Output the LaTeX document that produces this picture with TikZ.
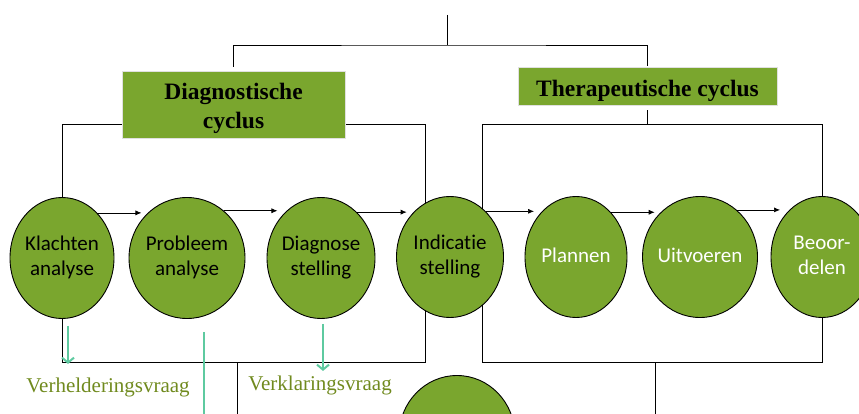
\documentclass[tikz,border=0pt]{standalone}
\usepackage{fontspec}
\setmainfont{Liberation Serif}
\newfontfamily\calibri[Ligatures=NoCommon]{Carlito}
\usetikzlibrary{shapes.geometric,arrows.meta,backgrounds}
\definecolor{leaf}{RGB}{122,166,46}
\definecolor{mint}{RGB}{94,202,160}
\definecolor{olivetext}{RGB}{112,138,30}
\definecolor{wire}{RGB}{80,80,80}
\newcommand{\phasetext}[1]{\makebox[0pt]{\begin{tabular}{@{}c@{}}#1\end{tabular}}}
\newcommand{\lowered}[2]{\raisebox{-#1}[\height][\depth]{#2}}
\tikzset{
  phase/.style={ellipse,draw=black,line width=0.9pt,fill=leaf,inner sep=0pt,
    minimum height=121pt,font=\calibri\fontsize{21}{25.5}\selectfont},
  header/.style={fill=leaf,draw=black!12,line width=0.5pt,inner sep=0pt,
    font=\bfseries\fontsize{23.5}{29}\selectfont},
  bracket/.style={draw=wire,line width=1pt},
  flow/.style={-{Latex[length=6pt,width=5pt]},line width=0.7pt},
  ask/.style={draw=mint,line width=2pt,-{Straight Barb[length=5pt,width=12pt]}},
  question/.style={text=olivetext,font=\fontsize{21}{25}\selectfont}
}
\begin{document}
\begin{tikzpicture}[x=1pt,y=-1pt]
      \useasboundingbox (0,0) rectangle (859,414);
      \clip (0,0) rectangle (859,414);
      \node[header,minimum width=223pt,minimum height=67pt] (dbox) at (233.5,104.5)
        {\lowered{4pt}{\phasetext{Diagnostische\\cyclus}}};
      \node[header,minimum width=259pt,minimum height=38pt] (tbox) at (647.5,86)
        {\lowered{5pt}{\phasetext{Therapeutische cyclus}}};
      \node[phase,minimum width=104pt] (k) at (62,258) {\phasetext{Klachten\\analyse}};
      \node[phase,minimum width=116pt] (p) at (187,258) {\phasetext{Probleem\\analyse}};
      \node[phase,minimum width=108pt] (d) at (321,258) {\phasetext{Diagnose\\stelling}};
      \node[phase,minimum width=107pt] (i) at (450,257) {\phasetext{Indicatie\\stelling}};
      \node[phase,minimum width=102pt,text=white] (pl) at (576,257) {\phasetext{Plannen}};
      \node[phase,minimum width=115pt,text=white] (u) at (700,257) {\phasetext{Uitvoeren}};
      \node[phase,minimum width=102pt,text=white] (b) at (822,257) {\phasetext{Beoor-\\delen}};
      \node[phase,minimum width=116pt] (next) at (457,436) {};
      \node[question] (vh) at (108,387) {Verhelderingsvraag};
      \node[question] (vk) at (320,385) {Verklaringsvraag};
      \coordinate (top) at (447,15);
      \coordinate (fork) at (447,45);
      \coordinate (dtop) at (0,124);
      \coordinate (base) at (0,362);
      \coordinate (dright) at ([xshift=-25pt]i.center);
      \coordinate (tleft) at ([xshift=32pt]i.center);
      \coordinate (dfoot) at (237,362);
      \coordinate (tfoot) at (655,362);
      \coordinate (lead) at (204,332);
      \begin{scope}[on background layer,bracket]
        \draw (top) -- (fork);
        \draw ([yshift=4pt]dbox.north) |- (fork) -| ([yshift=1pt]tbox.north);
        \draw (k) |- (dtop -| dright) -- (base -| dright) -| (k);
        \draw ([yshift=-5pt]tbox.south) -- (dtop -| tbox);
        \draw (b) |- (dtop -| tleft) -- (base -| tleft) -| (b);
        \draw (dfoot) -- ++(0,52);
        \draw (tfoot) -- ++(0,52);
      \end{scope}
      \begin{scope}[flow]
        \draw (k.52) -- (k.52 -| p.140);
        \draw (p.52) -- (p.52 -| d.140);
        \draw (d.52) -- (d.52 -| i.140);
        \draw (i.52) -- (i.52 -| pl.140);
        \draw (pl.52) -- (pl.52 -| u.140);
        \draw (u.52) -- (u.52 -| b.140);
      \end{scope}
      \draw[ask] ([xshift=6pt,yshift=-7pt]k.south) -- ++(0,38);
      \draw[ask] ([xshift=2pt,yshift=-5pt]d.south) -- ++(0,47);
      \draw[mint,line width=2pt] (lead) -- ++(0,90);
    \end{tikzpicture}
\end{document}
